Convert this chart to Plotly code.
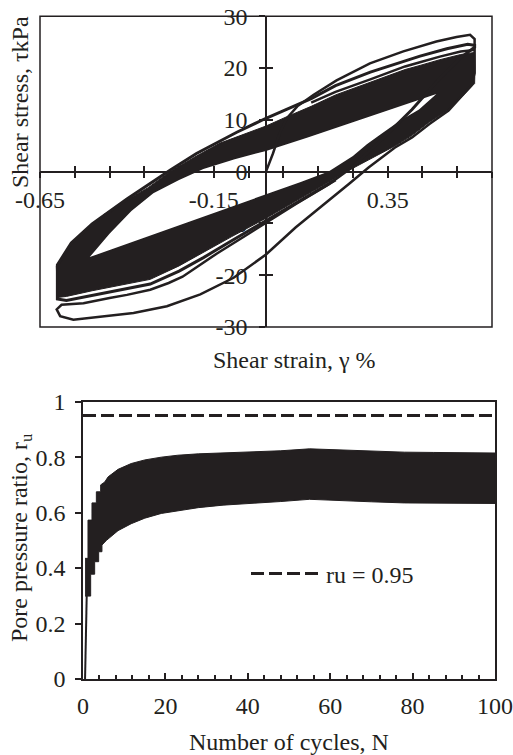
import plotly.graph_objects as go

INK = "#231f20"
FONT = "Liberation Serif, Times New Roman, serif"

# ---------------- top panel: hysteresis loops (strain %, stress kPa) ----------------
# dense band of later cycles: outline and inner white hole
band_strain = [-0.600, -0.603, -0.560, -0.500, -0.464, -0.400, -0.339, -0.275, -0.200, -0.132,
               -0.060, 0.000, 0.060, 0.130, 0.200, 0.300, 0.400, 0.443, 0.500, 0.560,
               0.600, 0.601, 0.600, 0.564, 0.525, 0.468, 0.420, 0.372, 0.305, 0.240,
               0.134, 0.000, -0.100, -0.180, -0.250, -0.333, -0.420, -0.500, -0.574, -0.600]
band_stress = [-24.3, -18.2, -14.0, -10.3, -8.2, -5.5, -3.1, 0.0, 3.0, 5.5,
               7.3, 8.8, 10.6, 12.6, 14.8, 17.2, 19.7, 20.5, 21.6, 22.6,
               23.0, 20.0, 17.0, 14.5, 12.0, 9.5, 7.0, 5.0, 2.6, 0.3,
               -3.8, -9.0, -12.6, -15.6, -18.2, -20.8, -21.9, -23.0, -24.1, -24.3]

hole_strain = [-0.507, -0.450, -0.387, -0.324, -0.250, -0.180, -0.090, 0.000, 0.120, 0.240,
               0.360, 0.450, 0.490, 0.440, 0.385, 0.330, 0.290, 0.250, 0.210, 0.180,
               0.100, 0.000, -0.150, -0.300, -0.400, -0.507]
hole_stress = [-16.5, -12.0, -7.6, -4.2, -1.6, 0.5, 2.4, 4.0, 6.6, 9.3,
               12.0, 14.0, 15.0, 12.0, 9.8, 7.2, 5.3, 3.0, 1.3, 0.0,
               -2.0, -4.4, -8.0, -11.5, -13.9, -16.5]

# cycle 1 (first loading, unloading, reloading)
c1_strain = [0.000, 0.020, 0.040, 0.060, 0.090, 0.136, 0.203, 0.299, 0.395, 0.443,
             0.490, 0.548, 0.587, 0.600, 0.601, 0.600, 0.590, 0.560, 0.525, 0.470,
             0.420, 0.370, 0.330, 0.295, 0.240, 0.180, 0.085, 0.000, -0.093, -0.189,
             -0.285, -0.381, -0.477, -0.554, -0.592, -0.602, -0.588, -0.525, -0.450, -0.400,
             -0.333, -0.280, -0.240, -0.141, -0.050, 0.000, 0.085, 0.180, 0.247]
c1_stress = [0.0, 3.5, 7.5, 10.3, 12.6, 14.8, 17.6, 20.9, 23.2, 24.1,
             25.1, 26.0, 26.4, 25.6, 22.0, 19.0, 16.6, 14.4, 11.8, 9.2,
             6.6, 4.6, 2.6, 0.8, -2.3, -5.6, -10.8, -16.0, -20.5, -23.7,
             -26.0, -27.3, -28.1, -28.6, -27.9, -26.6, -25.7, -25.4, -24.4, -23.8,
             -22.8, -21.5, -20.3, -15.8, -12.0, -9.9, -6.3, -2.5, 0.8]

# cycle 2
c2_strain = [0.247, 0.330, 0.420, 0.500, 0.560, 0.600, 0.600, 0.580, 0.520, 0.443,
             0.300, 0.200, 0.130, 0.000, -0.084, -0.200, -0.275, -0.400, -0.500, -0.560,
             -0.600, -0.600, -0.574, -0.500, -0.420, -0.333, -0.250, -0.180, -0.100, 0.000,
             0.100, 0.200]
c2_stress = [0.8, 6.0, 12.0, 18.0, 22.0, 24.0, 24.4, 24.6, 23.7, 22.3,
             19.2, 16.6, 14.1, 10.3, 7.6, 3.5, 0.3, -5.3, -10.1, -13.8,
             -18.0, -24.6, -24.9, -23.9, -22.8, -21.7, -19.2, -16.6, -13.4, -9.5,
             -5.5, -1.6]

# cycle 3 (upper branch visible above the band)
c3_strain = [0.130, 0.200, 0.300, 0.400, 0.443, 0.500, 0.560, 0.600]
c3_stress = [13.3, 15.4, 17.8, 20.3, 21.1, 22.2, 23.2, 23.5]

strain_ticks = [-0.65, -0.55, -0.45, -0.35, -0.25, -0.15, -0.05, 0.05, 0.15, 0.25, 0.35, 0.45, 0.55, 0.65]
strain_label_vals = [-0.65, -0.15, 0.35]
strain_label_text = ["-0.65", "-0.15", "0.35"]
stress_ticks = [-30, -20, -10, 0, 10, 20, 30]
stress_ticktext = ["-30", "-20", "-10", "0", "10", "20", "30"]

# ---------------- bottom panel: pore pressure ratio ----------------
upper_N = [0.5, 1.21, 1.21, 2.18, 2.18, 3.24, 3.24, 4.29, 4.29, 5.26, 6.1, 8.5, 11.7, 15, 19,
           23, 28, 34, 40, 48, 55, 62, 70, 78, 85, 92, 100]
upper_ru = [0.435, 0.435, 0.573, 0.573, 0.635, 0.635, 0.675, 0.675, 0.700, 0.710, 0.729, 0.756,
            0.777, 0.790, 0.800, 0.807, 0.812, 0.815, 0.818, 0.823, 0.830, 0.826, 0.820, 0.818,
            0.817, 0.816, 0.815]
lower_N = [0.5, 1.86, 1.86, 2.83, 2.83, 3.8, 3.8, 4.6, 4.6, 5.7, 6.1, 8.5, 11.7, 15, 19,
           23, 28, 34, 40, 48, 55, 62, 70, 78, 85, 92, 100]
lower_ru = [0.299, 0.299, 0.378, 0.378, 0.423, 0.423, 0.459, 0.459, 0.483, 0.500, 0.507, 0.535,
            0.560, 0.580, 0.597, 0.607, 0.618, 0.627, 0.633, 0.640, 0.648, 0.645, 0.639, 0.635,
            0.634, 0.633, 0.633]
rise_N = [0.5, 0.9]
rise_ru = [0.0, 0.30]
limit_N = [0, 100]
limit_ru = [0.95, 0.95]

fig = go.Figure()

# top panel traces
fig.add_trace(go.Scatter(x=band_strain, y=band_stress, fill="toself", fillcolor=INK,
                         line=dict(color=INK, width=1), mode="lines", showlegend=False,
                         xaxis="x", yaxis="y", hoverinfo="skip"))
fig.add_trace(go.Scatter(x=hole_strain, y=hole_stress, fill="toself", fillcolor="white",
                         line=dict(color="white", width=0), mode="lines", showlegend=False,
                         xaxis="x", yaxis="y", hoverinfo="skip"))
fig.add_trace(go.Scatter(x=c3_strain, y=c3_stress, mode="lines", line=dict(color=INK, width=2.5),
                         showlegend=False, xaxis="x", yaxis="y"))
fig.add_trace(go.Scatter(x=c2_strain, y=c2_stress, mode="lines", line=dict(color=INK, width=3),
                         showlegend=False, xaxis="x", yaxis="y"))
fig.add_trace(go.Scatter(x=c1_strain, y=c1_stress, mode="lines", line=dict(color=INK, width=2.5),
                         showlegend=False, xaxis="x", yaxis="y"))
fig.add_trace(go.Scatter(x=[None], y=[None], xaxis="x3", yaxis="y3", showlegend=False, mode="lines"))

# bottom panel traces
fig.add_trace(go.Scatter(x=upper_N + lower_N[::-1], y=upper_ru + lower_ru[::-1], fill="toself",
                         fillcolor=INK, line=dict(color=INK, width=1), mode="lines",
                         showlegend=False, xaxis="x2", yaxis="y2", hoverinfo="skip"))
fig.add_trace(go.Scatter(x=rise_N, y=rise_ru, mode="lines", line=dict(color=INK, width=2),
                         showlegend=False, xaxis="x2", yaxis="y2"))
fig.add_trace(go.Scatter(x=limit_N, y=limit_ru, mode="lines", name="ru = 0.95",
                         line=dict(color=INK, width=3, dash="13px,5px"),
                         xaxis="x2", yaxis="y2"))

W, H = 513, 755


def fx(px):
    return px / W


def fy(py):
    return 1 - py / H


xd_top = [fx(40), fx(492)]
yd_top = [fy(327), fy(16.2)]
xd_bot = [fx(83), fx(495)]
yd_bot = [fy(679), fy(401.7)]
x0_pos = (yd_top[0] + yd_top[1]) / 2
y0_pos = (xd_top[0] + xd_top[1]) / 2

tickfont = dict(family=FONT, size=24, color=INK)
axcommon = dict(showgrid=False, zeroline=False, linecolor=INK, linewidth=1.5,
                tickcolor=INK, tickwidth=1.5, tickfont=tickfont, automargin=False,
                ticklabeloverflow="allow")
annfont = dict(family=FONT, size=24, color=INK)

fig.update_layout(
    width=W, height=H, autosize=False,
    margin=dict(l=0, r=0, t=0, b=0, pad=0, autoexpand=False),
    paper_bgcolor="white", plot_bgcolor="white",
    font=dict(family=FONT, size=24, color=INK),
    xaxis=dict(domain=xd_top, range=[-0.65, 0.65], anchor="free", position=x0_pos,
               tickmode="array", tickvals=strain_label_vals, ticktext=strain_label_text,
               ticks="outside", ticklen=6, showline=True, ticklabelstandoff=1,
               minor=dict(tickmode="array", tickvals=strain_ticks, ticks="outside", ticklen=6,
                          tickcolor=INK, tickwidth=1.5),
               **axcommon),
    yaxis=dict(domain=yd_top, range=[-30, 30], anchor="free", position=y0_pos,
               tickmode="array", tickvals=stress_ticks, ticktext=stress_ticktext,
               ticks="outside", ticklen=6, showline=True, ticklabelstandoff=7, **axcommon),
    xaxis3=dict(overlaying="x", range=[-0.65, 0.65], anchor="free", position=x0_pos,
                tickmode="array", tickvals=strain_ticks, ticks="inside", ticklen=6,
                showticklabels=False, showline=False, **axcommon),
    yaxis3=dict(overlaying="y", range=[-30, 30], anchor="free", position=y0_pos,
                tickmode="array", tickvals=stress_ticks, ticks="inside", ticklen=6,
                showticklabels=False, showline=False, **axcommon),
    xaxis2=dict(domain=xd_bot, range=[0, 100], anchor="y2", tickmode="linear", tick0=0, dtick=20,
                ticks="inside", ticklen=6, showline=True, mirror=True, ticklabelstandoff=4,
                minor=dict(tick0=0, dtick=4, ticks="inside", ticklen=4, tickcolor=INK, tickwidth=1.5),
                **axcommon),
    yaxis2=dict(domain=yd_bot, range=[0, 1], anchor="x2", tickmode="linear", tick0=0, dtick=0.2,
                ticks="outside", ticklen=6, showline=True, mirror=True, ticklabelstandoff=5,
                **axcommon),
    showlegend=True,
    legend=dict(x=fx(246), y=fy(574), xanchor="left", yanchor="middle",
                bgcolor="rgba(0,0,0,0)", font=dict(family=FONT, size=24, color=INK),
                itemwidth=70),
    shapes=[dict(type="rect", xref="x domain", yref="y domain", x0=0, x1=1, y0=0, y1=1,
                 line=dict(color=INK, width=1.5), layer="above")],
    annotations=[
        dict(text="Shear strain, γ %", x=fx(294), y=fy(360), xref="paper", yref="paper",
             showarrow=False, xanchor="center", yanchor="middle", font=annfont),
        dict(text="Shear stress, τkPa", x=fx(20), y=fy(102), xref="paper", yref="paper",
             showarrow=False, textangle=-90, xanchor="center", yanchor="middle", font=annfont),
        dict(text="Pore pressure ratio, r<sub>u</sub>", x=fx(21), y=fy(538), xref="paper",
             yref="paper", showarrow=False, textangle=-90, xanchor="center", yanchor="middle",
             font=annfont),
        dict(text="Number of cycles, N", x=fx(289), y=fy(742), xref="paper", yref="paper",
             showarrow=False, xanchor="center", yanchor="middle", font=annfont),
    ],
)

# remove the default 8 px page margin so the 513x755 figure fills the window exactly
fig.write_html("out.html", config={"displayModeBar": False},
               post_script="document.body.style.margin='0';document.body.style.overflow='hidden';")
